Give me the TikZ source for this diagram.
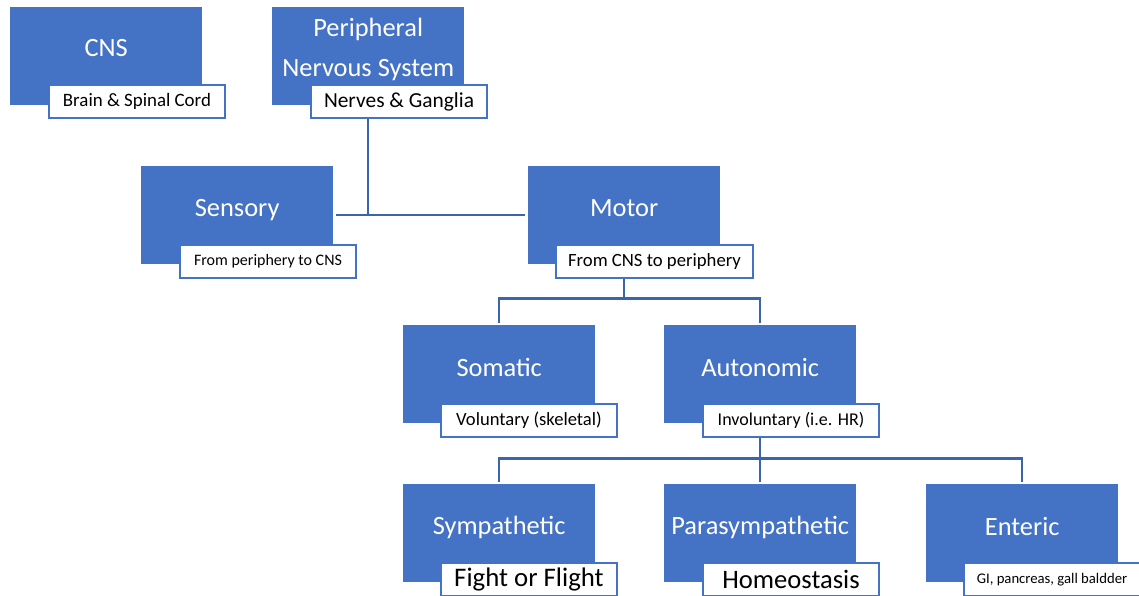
\documentclass[tikz,border=0pt]{standalone}
\usepackage{fontspec}
\setmainfont{Carlito}
\usetikzlibrary{calc}
\definecolor{boxblue}{HTML}{4472C4}
\definecolor{lineblue}{HTML}{3B64AD}
\tikzset{
  mainbox/.style={fill=boxblue, draw=none, minimum width=192pt, minimum height=98pt, inner sep=0pt, anchor=north west},
  title/.style={text=white, font=\fontsize{26.4}{31}\selectfont, align=center, inner sep=0pt},
  subbox/.style={fill=white, draw=boxblue, line width=2pt, minimum width=176pt, minimum height=33pt, inner sep=0pt, anchor=north west},
  conn/.style={draw=lineblue, line width=2.2pt},
}
\begin{document}
\begin{tikzpicture}[x=1pt,y=-1pt]
\useasboundingbox (0,0) rectangle (1139,596);
% top row
\node[mainbox] (cns) at (10,7) {};
\node[title] at ($(cns.center)+(0,-8)$) {CNS};
\node[subbox, font=\fontsize{18.9}{22}\selectfont] (cnsl) at (48,84) {Brain \& Spinal Cord};
\node[mainbox] (pns) at (272,7) {};
\node[title, font=\fontsize{26.4}{40}\selectfont] at ($(pns.center)+(0,-7)$) {Peripheral\\Nervous System};
\node[subbox, font=\fontsize{21.4}{24}\selectfont] (pnsl) at (310,84) {Nerves \& Ganglia};
% second row
\node[mainbox] (sens) at (141,166) {};
\node[title] at ($(sens.center)+(0,-5)$) {Sensory};
\node[subbox, font=\fontsize{16}{19}\selectfont] (sensl) at (179,244) {From periphery to CNS};
\node[mainbox] (mot) at (528,166) {};
\node[title] at ($(mot.center)+(0,-7)$) {Motor};
\node[subbox, font=\fontsize{18.7}{22}\selectfont, minimum width=197pt] (motl) at (555,244) {From CNS to periphery};
% third row
\node[mainbox] (soma) at (403,325) {};
\node[title] at ($(soma.center)+(0,-7)$) {Somatic};
\node[subbox, font=\fontsize{18.6}{22}\selectfont] (somal) at (440,403) {Voluntary (skeletal)};
\node[mainbox] (auto) at (664,325) {};
\node[title] at ($(auto.center)+(0,-7)$) {Autonomic};
\node[subbox, font=\fontsize{18}{22}\selectfont] (autol) at (702,403) {Involuntary (i.e. HR)};
% fourth row
\node[mainbox] (symp) at (403,484) {};
\node[title] at ($(symp.center)+(0,-6)$) {Sympathetic};
\node[subbox, font=\fontsize{26.8}{30}\selectfont] (sympl) at (440,562) {Fight or Flight};
\node[mainbox] (para) at (664,484) {};
\node[title] at ($(para.center)+(0,-6)$) {Parasympathetic};
\node[subbox, font=\fontsize{26.6}{30}\selectfont] (paral) at (702,562) {Homeostasis};
\node[mainbox] (ent) at (926,484) {};
\node[title] at ($(ent.center)+(0,-7)$) {Enteric};
\node[subbox, font=\fontsize{14.7}{17}\selectfont] (entl) at (963,562) {GI, pancreas, gall baldder};
% connectors
\coordinate (j0) at (pns.south |- sens.east);
\draw[conn] (j0 |- pnsl.south) -- (j0);
\draw[conn, shorten <=3pt, shorten >=3pt] (sens.east) -- (mot.west);
\coordinate (j1) at ($(mot.south)+(0,34)$);
\draw[conn] (j1 |- motl.south) -- (j1);
\draw[conn, shorten <=2pt] (soma.north) |- (j1);
\draw[conn, shorten <=2pt] (auto.north) |- (j1);
\coordinate (j2) at ($(auto.south)+(0,35)$);
\draw[conn] (j2 |- autol.south) -- (j2);
\draw[conn, shorten <=2pt] (symp.north) |- (j2);
\draw[conn, shorten <=2pt] (para.north) -- (j2);
\draw[conn, shorten <=2pt] (ent.north) |- (j2);
\end{tikzpicture}
\end{document}
